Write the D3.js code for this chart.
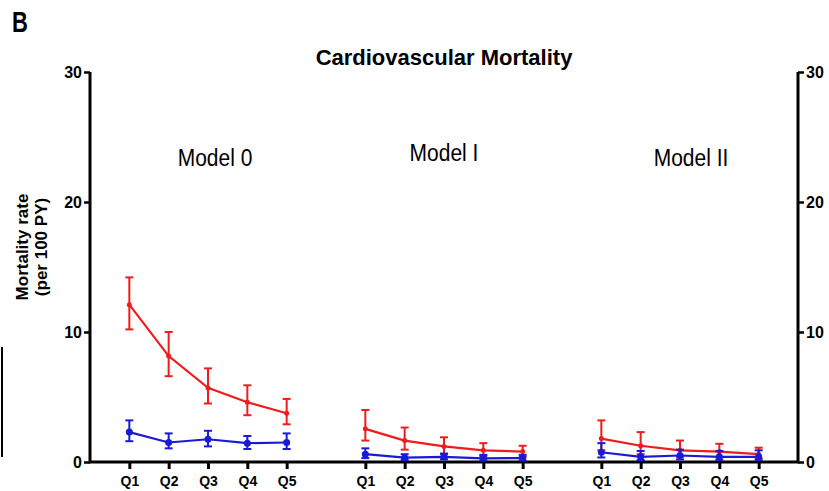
<!DOCTYPE html>
<html>
<head>
<meta charset="utf-8">
<script src="https://cdn.jsdelivr.net/npm/d3@7"></script>
<style>
  body { margin: 0; background: #fff; }
  svg { display: block; font-family: Arial, "Liberation Sans", sans-serif; }
</style>
</head>
<body>
<svg id="chart" width="829" height="491"></svg>
<script>
'use strict'

const quintiles = ['Q1', 'Q2', 'Q3', 'Q4', 'Q5']
const models = ['Model 0', 'Model I', 'Model II']
const yTicks = [0, 10, 20, 30]

// red series (higher rate) : mean, upper and lower error bar per model
const redMean = [[12.1, 8.15, 5.7, 4.6, 3.75], [2.55, 1.65, 1.2, 0.9, 0.8], [1.8, 1.25, 0.9, 0.8, 0.6]]
const redHi = [[14.2, 10.0, 7.2, 5.9, 4.85], [4.0, 2.65, 1.9, 1.45, 1.25], [3.2, 2.3, 1.65, 1.4, 1.1]]
const redLo = [[10.2, 6.6, 4.5, 3.6, 2.9], [1.65, 0.95, 0.6, 0.45, 0.4], [0.9, 0.6, 0.4, 0.35, 0.3]]

// blue series (lower rate)
const blueMean = [[2.3, 1.5, 1.75, 1.45, 1.5], [0.6, 0.33, 0.4, 0.28, 0.3], [0.75, 0.4, 0.5, 0.4, 0.4]]
const blueHi = [[3.2, 2.2, 2.4, 2.0, 2.2], [1.05, 0.6, 0.65, 0.55, 0.55], [1.45, 0.85, 0.95, 0.85, 0.9]]
const blueLo = [[1.6, 1.05, 1.2, 1.0, 1.0], [0.3, 0.15, 0.2, 0.12, 0.12], [0.35, 0.15, 0.2, 0.15, 0.15]]

const svg = d3.select('#chart')

// index of a point along the axis: 5 quintiles per model, one empty slot between models
const pos = (m, q) => m * 6 + q
const x = d3.scaleLinear().domain([-1, 17]).range([90, 798])
const y = d3.scaleLinear().domain([0, 30]).range([462, 72])

// stray edge line from the source figure
svg.append('line').attr('x1', 2).attr('x2', 2).attr('y1', 347).attr('y2', 457)
  .attr('stroke', '#000').attr('stroke-width', 2)

svg.append('text')
  .attr('transform', 'translate(12,32) scale(1,1.3)')
  .attr('font-size', 22).attr('font-weight', 'bold').text('B')

svg.append('text')
  .attr('x', 444).attr('y', 65)
  .attr('text-anchor', 'middle')
  .attr('font-size', 22).attr('font-weight', 'bold')
  .text('Cardiovascular Mortality')

// y axis title
const yt = svg.append('text')
  .attr('transform', 'translate(28,247) rotate(-90)')
  .attr('text-anchor', 'middle')
  .attr('font-size', 17).attr('font-weight', 'bold')
yt.append('tspan').attr('x', 0).attr('dy', 0).text('Mortality rate')
yt.append('tspan').attr('x', 0).attr('dy', 19).text('(per 100 PY)')

// axes
const leftAxis = d3.axisLeft(y).tickValues(yTicks).tickSize(6).tickPadding(2)
const rightAxis = d3.axisRight(y).tickValues(yTicks).tickSize(6).tickPadding(2)

function styleAxis (g) {
  g.select('.domain').remove()
  g.selectAll('.tick line').attr('stroke', '#000').attr('stroke-width', 2.5)
  g.selectAll('.tick text').attr('fill', '#000')
    .attr('font-size', 16).attr('font-weight', 'bold')
    .attr('font-family', 'Arial, "Liberation Sans", sans-serif')
}

svg.append('g').attr('transform', 'translate(90,0)').call(leftAxis).call(styleAxis)
svg.append('g').attr('transform', 'translate(798,0)').call(rightAxis).call(styleAxis)

const qIdx = []
models.forEach((m, mi) => quintiles.forEach((q, qi) => qIdx.push({ i: pos(mi, qi), label: q })))

const bottomAxis = d3.axisBottom(x)
  .tickValues(qIdx.map(d => d.i))
  .tickFormat((d, i) => qIdx[i].label)
  .tickSize(7).tickPadding(7)

svg.append('g').attr('transform', 'translate(0,462)').call(bottomAxis)
  .call(g => {
    g.select('.domain').remove()
    g.selectAll('.tick line').attr('stroke', '#000').attr('stroke-width', 3)
    g.selectAll('.tick text').attr('fill', '#000')
      .attr('font-size', 14).attr('font-weight', 'bold')
      .attr('font-family', 'Arial, "Liberation Sans", sans-serif')
  })

// axis lines
svg.append('path')
  .attr('d', 'M' + x(-1) + ',' + y(30) + 'V' + y(0) + 'H' + x(17) + 'V' + y(30))
  .attr('fill', 'none').attr('stroke', '#000').attr('stroke-width', 3)

// model labels
const labelOffset = [7, 0, 11]
const labelY = [166, 161, 166]
models.forEach((m, mi) => {
  svg.append('text')
    .attr('transform', 'translate(' + (x(pos(mi, 2)) + labelOffset[mi]) + ',' + labelY[mi] + ') scale(1,1.15)')
    .attr('text-anchor', 'middle')
    .attr('font-size', 21)
    .text(m)
})

function drawSeries (mean, hi, lo, color, r) {
  const line = d3.line().x(d => x(d.i)).y(d => y(d.v))
  mean.forEach((vals, mi) => {
    const pts = vals.map((v, qi) => ({ i: pos(mi, qi), v: v, hi: hi[mi][qi], lo: lo[mi][qi] }))
    const g = svg.append('g')
    g.append('path').datum(pts)
      .attr('d', line).attr('fill', 'none')
      .attr('stroke', color).attr('stroke-width', 2.2)
    const eb = g.selectAll('.eb').data(pts).enter().append('g')
    eb.append('line')
      .attr('x1', d => x(d.i)).attr('x2', d => x(d.i))
      .attr('y1', d => y(d.hi)).attr('y2', d => y(d.lo))
      .attr('stroke', color).attr('stroke-width', 2)
    ;['hi', 'lo'].forEach(k => {
      eb.append('line')
        .attr('x1', d => x(d.i) - 4).attr('x2', d => x(d.i) + 4)
        .attr('y1', d => y(d[k])).attr('y2', d => y(d[k]))
        .attr('stroke', color).attr('stroke-width', 2)
    })
    eb.append('circle')
      .attr('cx', d => x(d.i)).attr('cy', d => y(d.v))
      .attr('r', r).attr('fill', color)
  })
}

drawSeries(redMean, redHi, redLo, '#ee1c1c', 2.5)
drawSeries(blueMean, blueHi, blueLo, '#1a1ad6', 3.5)
</script>
</body>
</html>
